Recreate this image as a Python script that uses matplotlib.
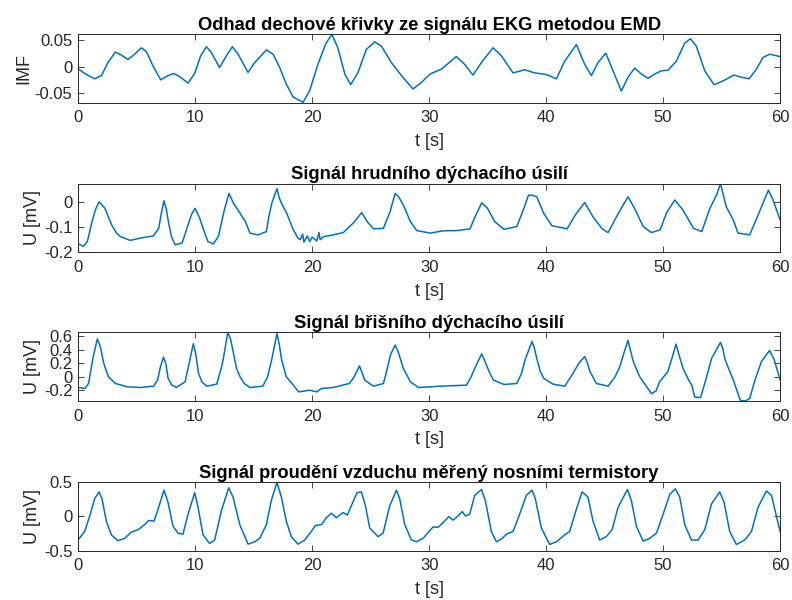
import matplotlib.pyplot as plt

plt.rcParams['font.family'] = ['Liberation Sans', 'DejaVu Sans']

# IMF estimate (EMD of ECG)
t_imf = [0, 0.57, 1.42, 2.0, 2.56, 3.19, 3.7, 4.27, 4.84, 5.41, 5.84, 6.41, 7.07, 7.69,
         8.18, 8.69, 9.4, 9.97, 10.48, 10.97, 11.4, 12.1, 12.68, 13.19, 13.68, 14.53,
         15.1, 16.1, 16.67, 17.24, 17.8, 18.38, 19.23, 19.8, 20.5, 21.2, 21.7, 22.2, 22.8,
         23.3, 23.93, 24.64, 25.36, 25.93, 26.78, 27.64, 28.63, 29.34, 30.09, 31.05,
         32.33, 33.04, 33.76, 34.47, 35.47, 36.18, 37.18, 38.17, 39.03, 40.02, 40.88,
         41.59, 42.59, 43.3, 43.87, 44.44, 45.1, 45.72, 46.43, 47.0, 47.57, 48.14, 48.71,
         49.28, 49.85, 50.42, 51.13, 51.85, 52.33, 52.84, 53.56, 54.35, 55.12, 56.06,
         56.69, 57.35, 57.97, 58.54, 59.11, 60]
imf = [-0.004, -0.013, -0.023, -0.017, 0.0074, 0.027, 0.0216, 0.013, 0.023, 0.035, 0.028,
       0.001, -0.025, -0.017, -0.013, -0.019, -0.031, -0.013, 0.020, 0.037, 0.026, -0.002,
       0.020, 0.037, 0.023, -0.011, 0.0074, 0.031, 0.023, -0.002, -0.033, -0.057, -0.067,
       -0.045, 0.004, 0.044, 0.060, 0.035, -0.014, -0.034, -0.011, 0.032, 0.046, 0.038,
       0.0074, -0.017, -0.042, -0.030, -0.014, -0.005, 0.0185, 0.004, -0.016, 0.0074,
       0.035, 0.020, -0.012, -0.006, -0.012, -0.015, -0.023, 0.010, 0.041, 0.004, -0.017,
       0.0074, 0.025, -0.008, -0.046, -0.020, -0.003, -0.014, -0.022, -0.014, -0.008,
       -0.007, 0.010, 0.044, 0.052, 0.038, -0.008, -0.034, -0.027, -0.016, -0.020,
       -0.023, -0.005, 0.017, 0.023, 0.0185]

# chest respiratory effort
t_chest = [0, 0.45, 0.8, 1.2, 1.5, 1.8, 2.3, 2.88, 3.3, 3.6, 4.45, 5.3, 6.44, 6.9, 7.1,
           7.35, 7.55, 7.72, 8.0, 8.3, 8.9, 9.4, 9.7, 10.0, 10.4, 10.8, 11.1, 11.56, 12.0,
           12.5, 12.9, 13.3, 13.7, 14.3, 14.7, 15.4, 16.1, 16.3, 16.55, 17.0, 17.2, 17.4,
           17.84, 18.4, 18.8, 19.0, 19.2, 19.3, 19.6, 19.8, 20.0, 20.4, 20.6, 20.7, 21.0,
           21.8, 22.67, 23.5, 24.25, 24.7, 25.25, 26.1, 26.67, 26.9, 27.1, 27.4, 27.8, 28.4,
           28.95, 30.1, 31.2, 32.4, 33.5, 34.0, 34.5, 35.0, 35.6, 36.4, 37.5, 38.1, 38.5,
           38.8, 39.2, 39.8, 40.5, 41.8, 42.5, 43.3, 44.0, 44.8, 45.3, 46.1, 47.0, 47.6,
           48.3, 49.0, 49.75, 50.3, 51.0, 51.7, 52.6, 53.3, 54.0, 54.6, 54.9, 55.4, 56.0,
           56.4, 57.4, 58.0, 59.0, 59.4, 60]
chest = [-0.166, -0.176, -0.157, -0.078, -0.03, 0.0, -0.026, -0.092, -0.125, -0.137,
         -0.153, -0.144, -0.135, -0.105, -0.05, 0.004, -0.03, -0.078, -0.14, -0.17,
         -0.163, -0.092, -0.05, -0.026, -0.065, -0.12, -0.157, -0.167, -0.137, -0.033,
         0.033, -0.007, -0.035, -0.078, -0.124, -0.131, -0.118, -0.06, -0.007, 0.052,
         0.015, -0.007, -0.046, -0.111, -0.144, -0.15, -0.128, -0.16, -0.135, -0.158,
         -0.14, -0.155, -0.122, -0.15, -0.138, -0.131, -0.122, -0.085, -0.043, -0.078,
         -0.107, -0.105, -0.039, 0.0, 0.033, 0.02, -0.013, -0.078, -0.114, -0.124, -0.115,
         -0.114, -0.107, -0.052, -0.004, -0.026, -0.078, -0.109, -0.098, -0.026, 0.026,
         0.026, 0.02, -0.046, -0.095, -0.107, -0.052, -0.003, -0.059, -0.107, -0.122,
         -0.052, 0.02, -0.03, -0.098, -0.122, -0.111, -0.043, 0.007, -0.033, -0.105,
         -0.118, -0.026, 0.03, 0.072, -0.02, -0.072, -0.124, -0.131, -0.065, 0.046,
         0.007, -0.072]

# abdominal respiratory effort
t_abd = [0, 0.6, 0.9, 1.3, 1.65, 1.9, 2.2, 2.6, 3.2, 4.2, 5.3, 6.45, 6.8, 7.05, 7.3, 7.5,
         7.7, 8.0, 8.4, 9.15, 9.5, 9.85, 10.05, 10.3, 10.6, 11.0, 11.85, 12.2, 12.4, 12.8,
         13.05, 13.28, 13.55, 13.85, 14.2, 14.7, 15.8, 16.2, 16.55, 17.0, 17.2, 17.4, 17.8,
         18.4, 18.85, 19.8, 20.4, 20.8, 21.8, 23.2, 23.6, 24.05, 24.3, 24.5, 25.25, 26.1,
         26.4, 26.7, 27.1, 27.4, 27.8, 28.4, 29.1, 31.0, 33.2, 33.6, 33.9, 34.5, 34.9,
         35.2, 35.5, 36.4, 37.5, 37.9, 38.2, 38.8, 39.0, 39.2, 39.5, 39.8, 40.6, 41.6,
         42.3, 42.8, 43.3, 43.5, 43.75, 44.3, 45.3, 45.9, 46.3, 46.7, 47.0, 47.2, 47.45,
         48.0, 48.7, 49.0, 49.4, 49.7, 50.4, 50.8, 51.1, 51.4, 51.7, 52.1, 52.45, 52.7,
         53.2, 53.6, 54.15, 54.9, 55.1, 55.3, 56.0, 56.3, 56.6, 57.0, 57.4, 57.85, 58.4,
         59.1, 59.5, 60]
abd = [-0.16, -0.175, -0.1, 0.3, 0.56, 0.45, 0.2, 0.0, -0.1, -0.15, -0.16, -0.14, -0.05,
       0.15, 0.29, 0.2, -0.025, -0.12, -0.16, -0.075, 0.2, 0.49, 0.35, 0.05, -0.08, -0.14,
       -0.11, 0.1, 0.25, 0.66, 0.55, 0.35, 0.12, 0.0, -0.1, -0.16, -0.14, 0.0, 0.25, 0.64,
       0.48, 0.25, 0.0, -0.125, -0.225, -0.2, -0.225, -0.175, -0.16, -0.1, 0.0, 0.16,
       0.05, -0.05, -0.14, -0.1, 0.1, 0.325, 0.47, 0.35, 0.125, -0.075, -0.16, -0.14,
       -0.125, 0.0, 0.125, 0.34, 0.175, 0.05, -0.05, -0.115, -0.1, 0.05, 0.25, 0.525,
       0.42, 0.275, 0.08, -0.025, -0.11, -0.14, 0.05, 0.2, 0.3, 0.22, 0.075, -0.1, -0.14,
       0.0, 0.15, 0.38, 0.54, 0.4, 0.225, 0.0, -0.175, -0.25, -0.21, -0.075, 0.075, 0.3,
       0.485, 0.3, 0.125, -0.02, -0.125, -0.3, -0.31, -0.075, 0.275, 0.51, 0.42, 0.25,
       -0.05, -0.2, -0.35, -0.36, -0.325, -0.05, 0.225, 0.39, 0.25, -0.05]

# nasal airflow (thermistors)
t_flow = [0, 0.57, 1.0, 1.42, 1.8, 2.05, 2.42, 2.85, 3.42, 3.99, 4.56, 5.13, 5.7, 6.04,
          6.5, 6.84, 7.35, 7.69, 8.12, 8.55, 8.97, 9.4, 9.97, 10.26, 10.68, 11.25, 11.68,
          12.25, 12.88, 13.25, 13.82, 14.53, 15.1, 15.53, 16.1, 16.52, 17.0, 17.38, 17.8,
          18.23, 18.8, 19.37, 19.94, 20.28, 20.8, 21.23, 21.65, 22.08, 22.65, 23.02,
          23.42, 23.85, 24.22, 24.56, 24.93, 25.64, 26.07, 26.64, 27.21, 27.49, 27.92,
          28.49, 28.92, 29.49, 30.0, 30.34, 30.76, 31.19, 31.68, 32.05, 32.47, 32.84,
          33.1, 33.47, 33.9, 34.47, 34.81, 35.32, 35.75, 36.18, 36.66, 37.18, 37.74,
          38.31, 38.8, 39.08, 39.6, 40.31, 40.88, 41.59, 42.02, 42.59, 43.07, 43.58,
          44.01, 44.58, 45.15, 45.64, 46.15, 46.95, 47.29, 47.72, 48.29, 48.86, 49.43,
          50.0, 50.57, 51.05, 51.42, 51.85, 52.42, 52.99, 53.56, 54.13, 54.84, 55.21,
          55.69, 56.26, 56.98, 57.55, 58.11, 58.83, 59.26, 59.68, 60]
flow = [-0.345, -0.22, 0.005, 0.255, 0.355, 0.255, -0.07, -0.27, -0.355, -0.32, -0.23,
        -0.195, -0.12, -0.06, -0.07, 0.105, 0.38, 0.205, -0.145, -0.245, -0.26, 0.03,
        0.345, 0.13, -0.27, -0.395, -0.345, 0.08, 0.415, 0.28, -0.12, -0.405, -0.37,
        -0.32, -0.12, 0.23, 0.495, 0.28, -0.07, -0.295, -0.405, -0.345, -0.22, -0.135,
        -0.12, -0.02, 0.045, -0.02, 0.055, 0.02, 0.18, 0.345, 0.355, 0.155, -0.17,
        -0.295, -0.245, 0.155, 0.38, 0.255, -0.12, -0.345, -0.37, -0.32, -0.22, -0.155,
        -0.16, -0.095, -0.005, -0.055, 0.005, 0.07, 0.005, 0.03, 0.305, 0.39, 0.23,
        -0.22, -0.37, -0.33, -0.255, -0.22, 0.03, 0.305, 0.38, 0.255, -0.17, -0.41,
        -0.37, -0.27, -0.22, 0.105, 0.355, 0.28, -0.07, -0.345, -0.295, -0.195, 0.13,
        0.39, 0.23, -0.145, -0.36, -0.32, -0.245, 0.03, 0.32, 0.40, 0.28, -0.12, -0.345,
        -0.345, -0.195, 0.18, 0.355, 0.205, -0.22, -0.41, -0.345, -0.22, 0.13, 0.37,
        0.305, 0.005, -0.22]

titles = ['Odhad dechové křivky ze signálu EKG metodou EMD',
          'Signál hrudního dýchacího úsilí',
          'Signál břišního dýchacího úsilí',
          'Signál proudění vzduchu měřený nosními termistory']
ylabels = ['IMF', 'U [mV]', 'U [mV]', 'U [mV]']
series = [(t_imf, imf), (t_chest, chest), (t_abd, abd), (t_flow, flow)]
ylims = [(-0.0675, 0.061), (-0.2, 0.072), (-0.36, 0.66), (-0.5, 0.5)]
yticks = [[-0.05, 0, 0.05], [-0.2, -0.1, 0], [-0.2, 0, 0.2, 0.4, 0.6], [-0.5, 0, 0.5]]
ytl = [['-0.05', '0', '0.05'], ['-0.2', '-0.1', '0'], ['-0.2', '0', '0.2', '0.4', '0.6'],
       ['-0.5', '0', '0.5']]
bottoms = [0.829, 0.5795, 0.3317, 0.0822]

fig = plt.figure(figsize=(7.92, 6), dpi=100, facecolor='white')
gray = '#262626'
for i in range(4):
    ax = fig.add_axes([0.0985, bottoms[i], 0.8865, 0.1145])
    t, y = series[i]
    ax.plot(t, y, color='#0072BD', linewidth=1.1, solid_joinstyle='round')
    ax.set_xlim(0, 60)
    ax.set_ylim(*ylims[i])
    ax.set_xticks([0, 10, 20, 30, 40, 50, 60])
    ax.set_yticks(yticks[i])
    ax.set_yticklabels(ytl[i])
    ax.tick_params(direction='in', top=True, right=True, length=4, width=0.6,
                   colors=gray, labelsize=12)
    ax.tick_params(axis='x', pad=5.5)
    ax.tick_params(axis='y', pad=4)
    for s in ax.spines.values():
        s.set_color(gray)
        s.set_linewidth(0.7)
    ax.set_title(titles[i], fontsize=13.2, fontweight='bold', color='black', pad=3)
    ax.set_xlabel('t [s]', fontsize=13, color=gray, labelpad=5.5)
    ax.set_ylabel(ylabels[i], fontsize=13, color=gray, labelpad=2)

plt.savefig('out.png', dpi=100)
